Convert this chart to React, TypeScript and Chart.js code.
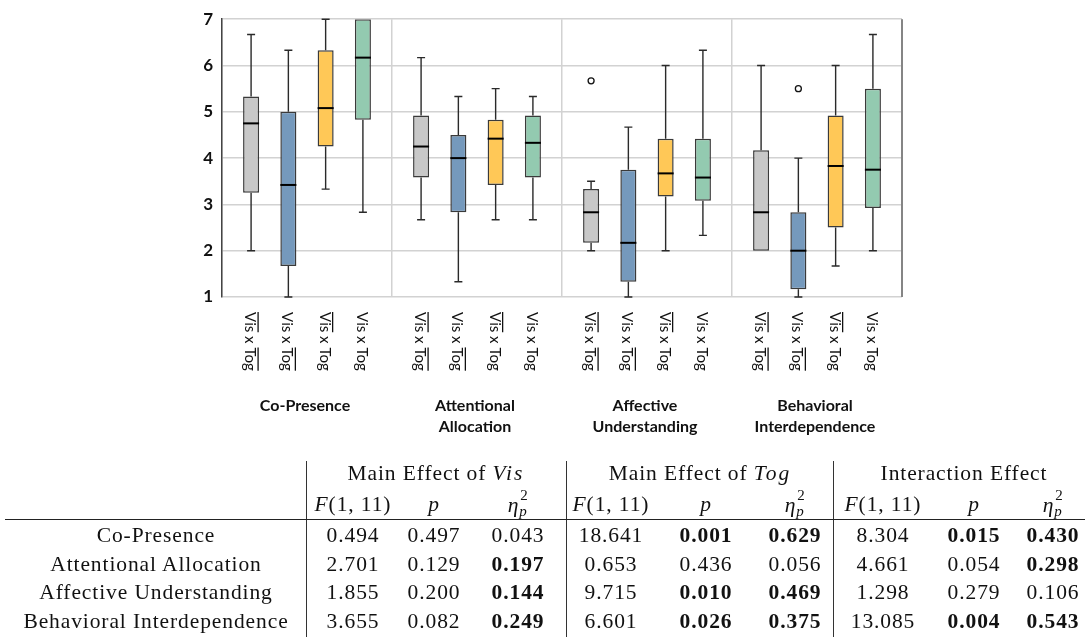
import React, { useEffect, useRef } from "react";
import { Chart, registerables } from "chart.js";

Chart.register(...registerables);

// ---------- chart data ----------
const groupLabels = ["Co-Presence", "Attentional Allocation", "Affective Understanding", "Behavioral Interdependence"];
const groupLabelLines = [["Co-Presence"], ["Attentional", "Allocation"], ["Affective", "Understanding"], ["Behavioral", "Interdependence"]];
const conditionNames = ["¬Vis x ¬Tog", "Vis x ¬Tog", "¬Vis x Tog", "Vis x Tog"];
// overline flags per condition: [Vis, Tog]
const conditionOverlines = [
  [true, true],
  [false, true],
  [true, false],
  [false, false],
];
const conditionColors = ["#C8C8C8", "#7599BC", "#FFC857", "#93CAB0"];
const yTicks = [1, 2, 3, 4, 5, 6, 7];

// [condition][group]
const whiskerLow = [
  [2.0, 2.67, 2.0, 2.0],
  [1.0, 1.33, 1.0, 1.0],
  [3.33, 2.67, 2.0, 1.67],
  [2.83, 2.67, 2.33, 2.0],
];
const quartile1 = [
  [3.25, 3.58, 2.17, 2.0],
  [1.67, 2.83, 1.33, 1.17],
  [4.25, 3.42, 3.17, 2.5],
  [4.83, 3.58, 3.08, 2.92],
];
const medians = [
  [4.75, 4.25, 2.83, 2.83],
  [3.42, 4.0, 2.17, 2.0],
  [5.08, 4.42, 3.67, 3.83],
  [6.17, 4.33, 3.58, 3.75],
];
const quartile3 = [
  [5.33, 4.92, 3.33, 4.17],
  [5.0, 4.5, 3.75, 2.83],
  [6.33, 4.83, 4.42, 4.92],
  [7.0, 4.92, 4.42, 5.5],
];
const whiskerHigh = [
  [6.67, 6.17, 3.5, 6.0],
  [6.33, 5.33, 4.67, 4.0],
  [7.0, 5.5, 6.0, 6.0],
  [7.0, 5.33, 6.33, 6.67],
];
const outliers: number[][][] = [
  [[], [], [5.67], []],
  [[], [], [], [5.5]],
  [[], [], [], []],
  [[], [], [], []],
];

// ---------- table data ----------
const rowLabels = ["Co-Presence", "Attentional Allocation", "Affective Understanding", "Behavioral Interdependence"];
const fVis = ["0.494", "2.701", "1.855", "3.655"];
const pVis = ["0.497", "0.129", "0.200", "0.082"];
const etaVis = ["0.043", "0.197", "0.144", "0.249"];
const fTog = ["18.641", "0.653", "9.715", "6.601"];
const pTog = ["0.001", "0.436", "0.010", "0.026"];
const etaTog = ["0.629", "0.056", "0.469", "0.375"];
const fInt = ["8.304", "4.661", "1.298", "13.085"];
const pInt = ["0.015", "0.054", "0.279", "0.004"];
const etaInt = ["0.430", "0.298", "0.106", "0.543"];

const LABEL_FONT = "Lato, 'Open Sans', sans-serif";

const boxPlugin = {
  id: "boxExtras",
  afterDatasetsDraw(chart: any) {
    const ctx = chart.ctx;
    const ys = chart.scales.y;
    const py = (v: number) => ys.getPixelForValue(v);
    chart.data.datasets.forEach((_ds: any, di: number) => {
      const meta = chart.getDatasetMeta(di);
      meta.data.forEach((el: any, gi: number) => {
        const x = el.x;
        const w = el.width;
        ctx.save();
        ctx.strokeStyle = "#2a2a2a";
        ctx.lineWidth = 1.4;
        const cap = 4;
        if (whiskerHigh[di][gi] > quartile3[di][gi]) {
          ctx.beginPath();
          ctx.moveTo(x, py(quartile3[di][gi]));
          ctx.lineTo(x, py(whiskerHigh[di][gi]));
          ctx.moveTo(x - cap, py(whiskerHigh[di][gi]));
          ctx.lineTo(x + cap, py(whiskerHigh[di][gi]));
          ctx.stroke();
        }
        if (whiskerLow[di][gi] < quartile1[di][gi]) {
          ctx.beginPath();
          ctx.moveTo(x, py(quartile1[di][gi]));
          ctx.lineTo(x, py(whiskerLow[di][gi]));
          ctx.moveTo(x - cap, py(whiskerLow[di][gi]));
          ctx.lineTo(x + cap, py(whiskerLow[di][gi]));
          ctx.stroke();
        }
        ctx.strokeStyle = "#000";
        ctx.lineWidth = 2;
        ctx.beginPath();
        ctx.moveTo(x - w / 2, py(medians[di][gi]));
        ctx.lineTo(x + w / 2, py(medians[di][gi]));
        ctx.stroke();
        outliers[di][gi].forEach((v) => {
          ctx.beginPath();
          ctx.arc(x, py(v), 3, 0, Math.PI * 2);
          ctx.fillStyle = "#fff";
          ctx.fill();
          ctx.strokeStyle = "#111";
          ctx.lineWidth = 1.3;
          ctx.stroke();
        });
        ctx.restore();
      });
    });
  },
  afterDraw(chart: any) {
    const ctx = chart.ctx;
    const area = chart.chartArea;
    // right border
    ctx.save();
    ctx.strokeStyle = "#858585";
    ctx.lineWidth = 2;
    ctx.beginPath();
    ctx.moveTo(area.right, area.top);
    ctx.lineTo(area.right, area.bottom);
    ctx.stroke();
    ctx.restore();

    // rotated condition labels
    const labelTop = area.bottom + 15;
    chart.data.datasets.forEach((_ds: any, di: number) => {
      const meta = chart.getDatasetMeta(di);
      meta.data.forEach((el: any) => {
        ctx.save();
        ctx.translate(el.x - 6, labelTop);
        ctx.rotate(Math.PI / 2);
        ctx.font = `15px ${LABEL_FONT}`;
        ctx.fillStyle = "#111";
        ctx.textBaseline = "alphabetic";
        ctx.textAlign = "left";
        const txt = "Vis x Tog";
        ctx.fillText(txt, 0, 0);
        const ov = conditionOverlines[di];
        const yLine = -13;
        ctx.strokeStyle = "#111";
        ctx.lineWidth = 1.3;
        if (ov[0]) {
          const wv = ctx.measureText("Vis").width;
          ctx.beginPath();
          ctx.moveTo(0, yLine);
          ctx.lineTo(wv, yLine);
          ctx.stroke();
        }
        if (ov[1]) {
          const start = ctx.measureText("Vis x ").width;
          const wt = ctx.measureText("Tog").width;
          ctx.beginPath();
          ctx.moveTo(start, yLine);
          ctx.lineTo(start + wt, yLine);
          ctx.stroke();
        }
        ctx.restore();
      });
    });

    // group labels
    const xs = chart.scales.x;
    ctx.save();
    ctx.font = `bold 16px ${LABEL_FONT}`;
    ctx.fillStyle = "#111";
    ctx.textAlign = "center";
    ctx.textBaseline = "middle";
    groupLabelLines.forEach((lines, gi) => {
      const cx = xs.getPixelForValue(gi);
      lines.forEach((line, li) => {
        ctx.fillText(line, cx - 2, 406 + li * 21);
      });
    });
    ctx.restore();
  },
};

function BoxChart() {
  const ref = useRef<HTMLCanvasElement | null>(null);
  useEffect(() => {
    if (!ref.current) return;
    const chart = new Chart(ref.current, {
      type: "bar",
      data: {
        labels: groupLabels,
        datasets: conditionNames.map((name, di) => ({
          label: name,
          data: groupLabels.map((_g, gi) => [quartile1[di][gi], quartile3[di][gi]]),
          backgroundColor: conditionColors[di],
          borderColor: "#3a3a3a",
          borderWidth: 1.5,
          borderSkipped: false,
          categoryPercentage: 0.877,
          barPercentage: 0.43,
        })),
      },
      options: {
        animation: false,
        responsive: false,
        devicePixelRatio: 1,
        layout: { padding: { left: 0, top: 13, right: 187, bottom: 153 } },
        plugins: { legend: { display: false }, tooltip: { enabled: false } },
        scales: {
          x: {
            ticks: { display: false },
            grid: { color: "#d2d2d2", lineWidth: 1.5, drawTicks: false, offset: true },
            border: { display: false },
            afterFit: (s: any) => {
              s.height = 0;
            },
          },
          y: {
            min: 1,
            max: 7,
            afterBuildTicks: (s: any) => {
              s.ticks = yTicks.map((v) => ({ value: v }));
            },
            ticks: {
              padding: 9,
              color: "#111",
              font: { family: LABEL_FONT, size: 17, weight: "bold" },
            },
            grid: { color: "#d2d2d2", lineWidth: 1.5, drawTicks: false },
            border: { display: true, color: "#444", width: 1.5 },
            afterFit: (s: any) => {
              s.width = 222;
            },
          },
        },
      },
      plugins: [boxPlugin],
    } as any);
    return () => chart.destroy();
  }, []);
  return (
    <canvas
      ref={ref}
      width={1089}
      height={450}
      style={{ position: "absolute", left: 0, top: 0, width: 1089, height: 450 }}
    />
  );
}

const SERIF = "'Liberation Serif', 'Times New Roman', serif";

function Eta() {
  return (
    <span>
      <i>η</i>
      <span style={{ display: "inline-block", position: "relative", width: 9, height: 0, verticalAlign: "baseline" }}>
        <span style={{ position: "absolute", left: 1, top: -24, fontSize: 15, lineHeight: "15px" }}>2</span>
        <span style={{ position: "absolute", left: 0, top: -8, fontSize: 15, lineHeight: "15px", fontStyle: "italic" }}>p</span>
      </span>
    </span>
  );
}

function Cell({ x, y, children, bold }: { x: number; y: number; children: any; bold?: boolean }) {
  return (
    <div
      style={{
        position: "absolute",
        left: x,
        top: y,
        transform: "translate(-50%, -50%)",
        whiteSpace: "nowrap",
        lineHeight: 1,
        fontWeight: bold ? "bold" : "normal",
      }}
    >
      {children}
    </div>
  );
}

const colX = [353, 434, 518, 611, 706, 795, 883, 974, 1053];
const rowY = [536, 564.5, 593, 621.5];
const headerY1 = 474;
const headerY2 = 505;

function StatsTable() {
  const cols = [fVis, pVis, etaVis, fTog, pTog, etaTog, fInt, pInt, etaInt];
  const isP = [false, true, false, false, true, false, false, true, false];
  const isEta = [false, false, true, false, false, true, false, false, true];
  return (
    <div
      style={{
        position: "absolute",
        left: 0,
        top: 0,
        width: 1089,
        height: 637,
        fontFamily: SERIF,
        fontSize: 21.5,
        color: "#111",
        letterSpacing: 0.9,
        pointerEvents: "none",
      }}
    >
      {[306, 566, 833].map((x) => (
        <div key={x} style={{ position: "absolute", left: x, top: 461, width: 1.2, height: 176, background: "#333" }} />
      ))}
      <div style={{ position: "absolute", left: 5, top: 518.5, width: 1080, height: 1.3, background: "#222" }} />
      <Cell x={436} y={headerY1}>
        Main Effect of <i style={{ letterSpacing: 2 }}>Vis</i>
      </Cell>
      <Cell x={700} y={headerY1}>
        Main Effect of <i style={{ letterSpacing: 2 }}>Tog</i>
      </Cell>
      <Cell x={964} y={headerY1}>
        Interaction Effect
      </Cell>
      {[0, 1, 2].map((g) => (
        <React.Fragment key={g}>
          <Cell x={colX[g * 3]} y={headerY2}>
            <i>F</i>(1, 11)
          </Cell>
          <Cell x={colX[g * 3 + 1]} y={headerY2}>
            <i>p</i>
          </Cell>
          <Cell x={colX[g * 3 + 2]} y={headerY2 + 1}>
            <Eta />
          </Cell>
        </React.Fragment>
      ))}
      {rowLabels.map((lab, ri) => (
        <React.Fragment key={lab}>
          <Cell x={156} y={rowY[ri]}>
            {lab}
          </Cell>
          {cols.map((col, ci) => {
            const v = parseFloat(col[ri]);
            const bold = (isP[ci] && v < 0.05) || (isEta[ci] && v >= 0.14);
            return (
              <Cell key={ci} x={colX[ci]} y={rowY[ri]} bold={bold}>
                {col[ri]}
              </Cell>
            );
          })}
        </React.Fragment>
      ))}
    </div>
  );
}

export default function App() {
  return (
    <div style={{ position: "absolute", left: 0, top: 0, width: 1089, height: 637, background: "#fff", overflow: "hidden" }}>
      <BoxChart />
      <StatsTable />
    </div>
  );
}
